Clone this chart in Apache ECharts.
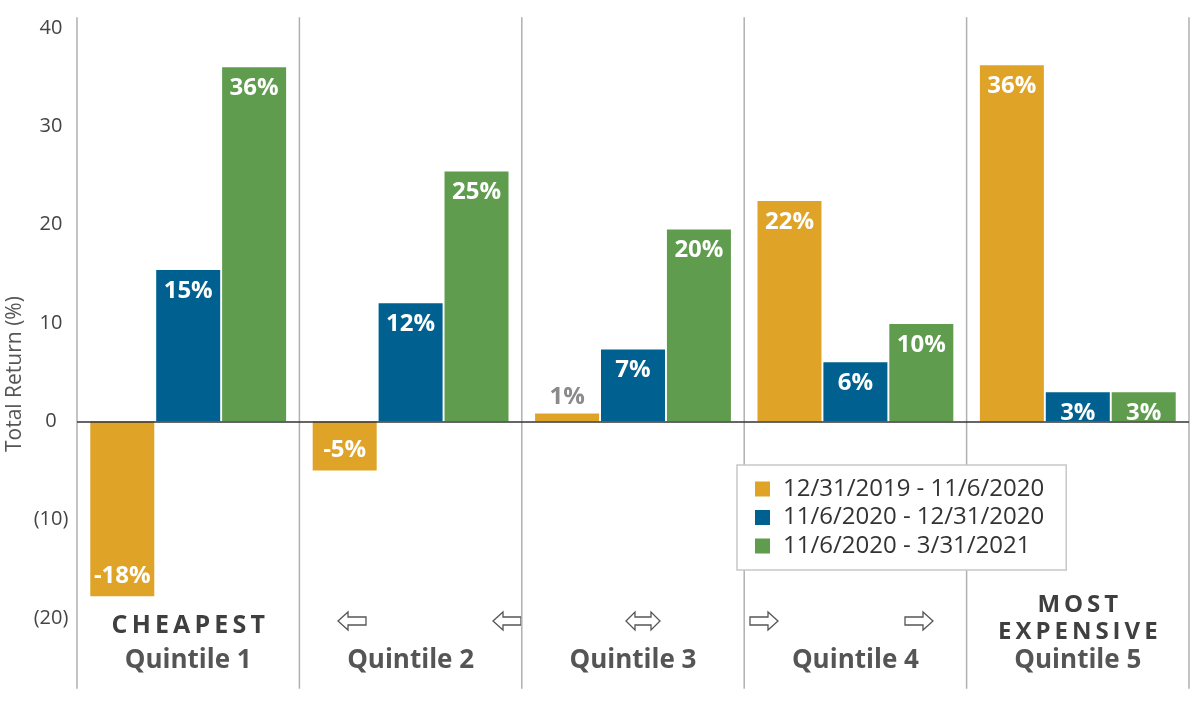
<!DOCTYPE html>
<html>
<head>
<meta charset="utf-8">
<script src="https://cdn.jsdelivr.net/npm/echarts@6/dist/echarts.min.js"></script>
<style>
  html, body { margin: 0; padding: 0; background: #fff; }
  #chart { width: 1200px; height: 705px; }
</style>
</head>
<body>
<div id="chart"></div>
<script>
// data
const categories = ['Quintile 1', 'Quintile 2', 'Quintile 3', 'Quintile 4', 'Quintile 5'];
const valuationTags = ['CHEAPEST', '', '', '', 'MOST EXPENSIVE'];
const periodNames = ['12/31/2019 - 11/6/2020', '11/6/2020 - 12/31/2020', '11/6/2020 - 3/31/2021'];
const ret2020 = [-17.8, -5.0, 0.8, 22.4, 36.2];
const retToYearEnd = [15.4, 12.0, 7.3, 6.0, 2.95];
const retToMarch = [36.0, 25.4, 19.5, 9.9, 2.95];
const periodColors = ['#DFA427', '#00608F', '#5F9C4E'];

const FONT = 'Open Sans';
// separators run a bit past the plotted range
const sepTop = 41.1;
const sepBottom = -27.2;

let chart = echarts.init(document.getElementById('chart'), null, { renderer: 'canvas' });

function spaced(word) {
  return word.split('').join('\u2009');
}

function barData(values) {
  return values.map(function (v) {
    if (v < 0) {
      return { value: v, label: { position: 'insideBottom', distance: 8 } };
    }
    if (v < 2) {
      // too small to hold the label, put it above in grey
      return { value: v, label: { position: 'top', distance: 4, color: '#8a8a8a' } };
    }
    return v;
  });
}

function barSeries(idx, values) {
  return {
    name: periodNames[idx],
    type: 'bar',
    barWidth: 64,
    barGap: '3%',
    itemStyle: { color: periodColors[idx] },
    label: {
      show: true,
      position: 'insideTop',
      distance: 9,
      color: '#fff',
      fontFamily: FONT,
      fontWeight: 'bold',
      fontSize: 24,
      formatter: function (p) { return Math.round(p.value) + '%'; }
    },
    data: barData(values)
  };
}

// outline arrows under the quintile labels
function arrow(cx, cy, kind) {
  let pts;
  if (kind === 'left') {
    pts = [[-14, 0], [-4, -9], [-4, -4], [14, -4], [14, 4], [-4, 4], [-4, 9]];
  } else if (kind === 'right') {
    pts = [[14, 0], [4, -9], [4, -4], [-14, -4], [-14, 4], [4, 4], [4, 9]];
  } else {
    pts = [[-17, 0], [-8, -9], [-8, -4], [8, -4], [8, -9], [17, 0], [8, 9], [8, 4], [-8, 4], [-8, 9]];
  }
  return {
    type: 'polygon',
    shape: { points: pts.map(function (p) { return [cx + p[0], cy + p[1]]; }) },
    style: { fill: '#fff', stroke: '#555', lineWidth: 1.3 },
    silent: true
  };
}

let option = {
  animation: false,
  backgroundColor: '#fff',
  textStyle: { fontFamily: FONT },
  grid: { left: 77, right: 11, top: 28, bottom: 87, containLabel: false },
  legend: {
    data: periodNames,
    orient: 'vertical',
    left: 737,
    top: 465,
    padding: [12, 22, 12, 18],
    itemGap: 4.5,
    itemWidth: 15,
    itemHeight: 15,
    icon: 'rect',
    backgroundColor: '#fff',
    borderColor: '#c8c8c8',
    borderWidth: 1.5,
    borderRadius: 0,
    textStyle: { fontFamily: FONT, fontSize: 24, lineHeight: 24, color: '#333', padding: [0, 0, 0, 8] }
  },
  xAxis: {
    type: 'category',
    data: categories,
    axisLine: { show: false, onZero: false },
    axisTick: { show: false },
    splitLine: { show: false },
    axisLabel: {
      interval: 0,
      margin: 57,
      verticalAlign: 'bottom',
      formatter: function (val, i) {
        const tag = valuationTags[i];
        if (tag === 'CHEAPEST') {
          return '{c|' + spaced(tag) + '}\n{q|' + val + '}';
        }
        if (tag) {
          const parts = tag.split(' ');
          return '{m|' + spaced(parts[0]) + '}\n{e|' + spaced(parts[1]) + '}\n{q|' + val + '}';
        }
        return '{q|' + val + '}';
      },
      rich: {
        q: { fontFamily: FONT, fontSize: 26, fontWeight: 'bold', color: '#555', lineHeight: 28 },
        c: { fontFamily: FONT, fontSize: 25, fontWeight: 'bold', color: '#3f3f3f', lineHeight: 42 },
        m: { fontFamily: FONT, fontSize: 24, fontWeight: 'bold', color: '#3f3f3f', lineHeight: 24 },
        e: { fontFamily: FONT, fontSize: 24, fontWeight: 'bold', color: '#3f3f3f', lineHeight: 30 }
      }
    }
  },
  yAxis: {
    type: 'value',
    min: -20,
    max: 40,
    interval: 10,
    axisLine: { show: false },
    axisTick: { show: false },
    splitLine: { show: false },
    axisLabel: {
      fontFamily: FONT,
      fontSize: 20,
      color: '#444',
      align: 'center',
      margin: 26,
      padding: [0, 0, 10, 0],
      formatter: function (v) { return v < 0 ? '(' + (-v) + ')' : String(v); }
    }
  },
  graphic: [
    {
      type: 'text',
      rotation: Math.PI / 2,
      x: 5, y: 452,
      style: { text: 'Total Return (%)', fontFamily: FONT, fontSize: 21, fill: '#555' },
      silent: true
    },
    arrow(352, 621, 'left'),
    arrow(507, 621, 'left'),
    arrow(643, 621, 'both'),
    arrow(764, 621, 'right'),
    arrow(919, 621, 'right')
  ],
  series: [
    barSeries(0, ret2020),
    barSeries(1, retToYearEnd),
    barSeries(2, retToMarch),
    {
      type: 'custom',
      name: 'separators',
      silent: true,
      clip: false,
      encode: { x: 0, y: 1 },
      data: categories.map(function (c) { return [c, 0]; }),
      renderItem: function (params, api) {
        const i = api.value(0);
        const half = api.size([1, 0])[0] / 2;
        const cx = api.coord([i, 0])[0];
        const top = api.coord([i, sepTop])[1];
        const bot = api.coord([i, sepBottom])[1];
        const style = { stroke: '#b0b0b0', lineWidth: 1.5 };
        const children = [{ type: 'line', shape: { x1: cx - half, y1: top, x2: cx - half, y2: bot }, style: style }];
        if (params.dataIndex === categories.length - 1) {
          children.push({ type: 'line', shape: { x1: cx + half, y1: top, x2: cx + half, y2: bot }, style: style });
        }
        return { type: 'group', children: children };
      },
      markLine: {
        silent: true,
        symbol: 'none',
        label: { show: false },
        lineStyle: { color: '#333', width: 1.5, type: 'solid' },
        data: [{ yAxis: 0 }]
      }
    }
  ]
};

chart.setOption(option);
</script>
</body>
</html>
